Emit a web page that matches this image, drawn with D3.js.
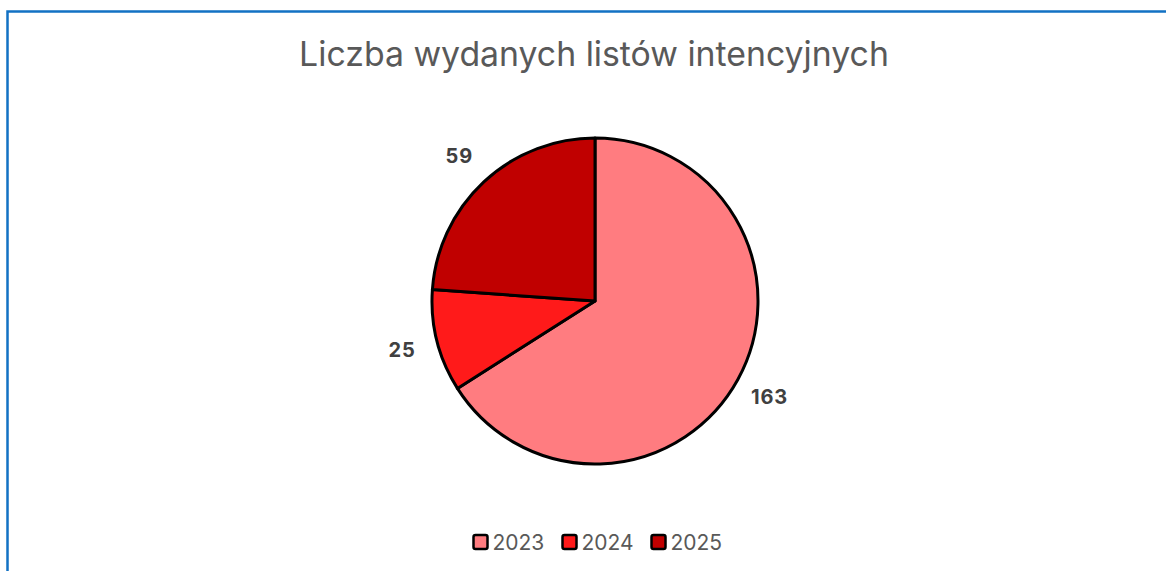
<!DOCTYPE html>
<html>
<head>
<meta charset="utf-8">
<script src="https://cdn.jsdelivr.net/npm/d3@7"></script>
<style>
  body { margin: 0; background: #fff; }
  text { font-family: Inter, "Open Sans", sans-serif; }
</style>
</head>
<body>
<div id="chart"></div>
<script>
"use strict";

// chart data
const years = ["2023", "2024", "2025"];
const counts = [163, 25, 59];
const sliceColors = ["#FF7C80", "#FF1A1A", "#C00000"];
const chartTitle = "Liczba wydanych listów intencyjnych";

const width = 1166, height = 571;

let svg = d3.select("#chart").append("svg")
    .attr("width", width)
    .attr("height", height);

// chart area border (runs off the right and bottom edge)
svg.append("rect")
   .attr("x", 7.5)
   .attr("y", 11.5)
   .attr("width", width + 20)
   .attr("height", height + 20)
   .attr("fill", "none")
   .attr("stroke", "#1271C4")
   .attr("stroke-width", 2.5);

// title
svg.append("text")
   .attr("x", 594)
   .attr("y", 66)
   .attr("text-anchor", "middle")
   .attr("fill", "#595959")
   .attr("font-size", 33.8)
   .text(chartTitle);

const pieSettings = { x: 595, y: 301, radius: 163, labelRadius: 199 };

let color = d3.scaleOrdinal().domain(years).range(sliceColors);

let pie = d3.pie().value(d => d.v).sort(null);
let arc = d3.arc().innerRadius(0).outerRadius(pieSettings.radius);
let labelArc = d3.arc().innerRadius(pieSettings.labelRadius).outerRadius(pieSettings.labelRadius);

const pieData = pie(years.map((y, i) => ({ name: y, v: counts[i] })));

let g = svg.append("g")
    .attr("transform", `translate(${pieSettings.x}, ${pieSettings.y})`);

g.selectAll("path")
 .data(pieData)
 .enter()
 .append("path")
 .attr("d", arc)
 .attr("fill", d => color(d.data.name))
 .attr("stroke", "#000")
 .attr("stroke-width", 3)
 .attr("stroke-linejoin", "round");

// value labels outside the slices
g.selectAll("text.value")
 .data(pieData)
 .enter()
 .append("text")
 .classed("value", true)
 .attr("transform", d => `translate(${labelArc.centroid(d)})`)
 .attr("text-anchor", "middle")
 .attr("dy", "0.36em")
 .attr("font-size", 20)
 .attr("font-weight", "bold")
 .attr("letter-spacing", 0.8)
 .attr("fill", "#404040")
 .text(d => d.data.v);

// legend
let legendX = d3.scalePoint().domain(years).range([473.5, 651.5]);

let legend = svg.append("g").selectAll("g")
    .data(years)
    .enter()
    .append("g")
    .attr("transform", d => `translate(${legendX(d)}, 542)`);

legend.append("rect")
      .attr("x", 0)
      .attr("y", -7)
      .attr("width", 14)
      .attr("height", 14)
      .attr("rx", 2)
      .attr("fill", d => color(d))
      .attr("stroke", "#000")
      .attr("stroke-width", 2.5);

legend.append("text")
      .attr("x", 19)
      .attr("dy", "0.36em")
      .attr("font-size", 21)
      .attr("fill", "#595959")
      .text(d => d);
</script>
</body>
</html>
